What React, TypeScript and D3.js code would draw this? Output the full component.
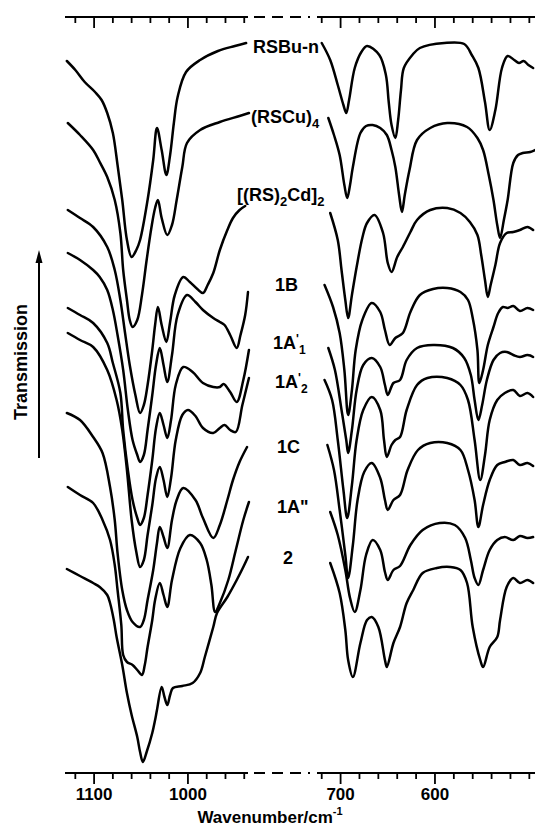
import * as d3 from "d3";

type Pt = [number, number];

// axis layout (cm-1)
const leftDomain = [1131, 936];
const rightDomain = [725, 494];
const leftTicks = [1120, 1100, 1080, 1060, 1040, 1020, 1000, 980, 960, 940];
const rightTicks = [720, 700, 680, 660, 640, 620, 600, 580, 560, 540, 520, 500];
const leftMajor = [1100, 1000];
const rightMajor = [700, 600];

// spectra, [wavenumber, stacked transmission (a.u.)]
const rsbuLeft: Pt[] = [[1129,712],[1120,703],[1110,691],[1099,681],[1092,673],[1086,660],[1080,640],[1075,608],[1070,573],[1065,533],[1060,516],[1055,523],[1051,533],[1043,573],[1037,613],[1033,645],[1028,623],[1023,598],[1019,618],[1015,650],[1011,676],[1002,701],[987,713],[968,722],[950,727],[938,730]];
const rsbuRight: Pt[] = [[720,730],[711,713],[703,688],[697,668],[694,660],[691,673],[685,705],[678,721],[672,727],[659,718],[652,698],[649,671],[646,648],[642,635],[639,653],[636,683],[633,705],[624,718],[616,725],[590,730],[569,729],[561,718],[554,705],[547,671],[542,643],[536,663],[529,705],[523,717],[516,713],[511,710],[506,712],[501,708],[496,705]];

const rscuLeft: Pt[] = [[1128,650],[1115,638],[1101,623],[1094,611],[1086,596],[1078,573],[1072,540],[1069,503],[1065,473],[1062,453],[1059,446],[1054,453],[1049,478],[1044,513],[1039,545],[1035,565],[1032,573],[1028,555],[1022,538],[1017,548],[1012,573],[1006,606],[1001,630],[987,643],[966,651],[945,657],[935,660]];
const rscuRight: Pt[] = [[713,655],[707,638],[701,618],[696,588],[693,575],[690,588],[687,606],[679,640],[673,647],[666,648],[658,645],[651,638],[646,623],[642,606],[638,578],[635,561],[632,578],[627,603],[619,633],[605,645],[587,650],[566,646],[555,635],[549,623],[543,598],[538,573],[534,548],[531,535],[527,553],[523,573],[517,610],[512,618],[507,620],[499,621],[494,623]];

const cdLeft: Pt[] = [[1128,563],[1115,555],[1101,546],[1086,526],[1078,503],[1072,473],[1067,440],[1062,408],[1056,378],[1051,360],[1047,368],[1043,388],[1038,423],[1035,448],[1032,466],[1028,448],[1023,431],[1019,451],[1014,478],[1005,496],[998,491],[990,484],[984,480],[979,488],[973,500],[966,523],[958,543],[952,555],[945,563],[939,567]];
const cdRight: Pt[] = [[711,560],[703,533],[699,503],[695,473],[692,455],[688,478],[683,506],[677,535],[672,550],[664,558],[655,540],[650,510],[646,501],[640,516],[634,526],[626,541],[619,553],[605,563],[587,565],[573,560],[563,551],[555,538],[551,518],[547,493],[544,476],[541,488],[536,508],[531,530],[524,540],[517,541],[510,543],[502,546],[496,543]];

const b1Left: Pt[] = [[1128,520],[1115,513],[1101,503],[1094,496],[1086,483],[1080,463],[1075,438],[1069,403],[1064,363],[1059,333],[1054,318],[1051,311],[1047,318],[1043,343],[1038,378],[1034,408],[1030,425],[1026,408],[1022,391],[1017,418],[1011,458],[1001,478],[992,471],[984,463],[973,455],[966,451],[961,448],[955,438],[948,425],[944,438],[939,458],[936,481]];
const b1Right: Pt[] = [[717,488],[708,466],[701,440],[696,403],[692,358],[688,383],[684,423],[677,453],[667,470],[658,461],[653,443],[648,428],[642,435],[634,440],[626,461],[616,478],[602,484],[587,485],[573,481],[565,473],[560,455],[555,423],[553,390],[549,403],[544,428],[538,446],[533,460],[528,466],[523,465],[517,467],[510,462],[502,465],[496,463]];

const a1Left: Pt[] = [[1128,465],[1115,458],[1101,450],[1086,430],[1080,410],[1072,380],[1069,343],[1064,303],[1059,273],[1054,255],[1051,248],[1047,255],[1043,278],[1038,313],[1034,345],[1030,360],[1026,348],[1022,335],[1018,353],[1013,388],[1005,406],[995,401],[984,390],[973,386],[966,386],[962,389],[955,381],[948,371],[941,393],[935,423]];
const a1Right: Pt[] = [[713,425],[706,403],[699,363],[694,333],[692,320],[688,343],[683,383],[676,408],[667,415],[658,406],[653,388],[650,378],[644,390],[637,393],[630,413],[619,425],[602,428],[581,425],[569,415],[562,398],[558,373],[554,353],[550,368],[545,393],[538,413],[531,420],[524,421],[517,418],[510,416],[502,418],[496,416]];

const a2Left: Pt[] = [[1128,440],[1115,433],[1101,426],[1086,403],[1076,373],[1070,343],[1065,303],[1060,253],[1055,221],[1051,206],[1047,213],[1043,238],[1038,268],[1034,295],[1030,306],[1026,293],[1022,276],[1018,295],[1013,333],[1006,358],[1000,363],[992,357],[984,345],[973,340],[966,345],[961,348],[955,343],[949,341],[942,368],[935,395]];
const a2Right: Pt[] = [[717,393],[709,373],[703,333],[697,283],[693,255],[688,288],[683,333],[676,363],[667,376],[658,363],[654,333],[651,316],[646,328],[642,333],[637,336],[630,363],[619,388],[608,395],[587,395],[573,388],[565,373],[558,333],[552,293],[547,318],[542,353],[534,373],[526,380],[517,383],[510,377],[502,380],[496,376]];

const c1Left: Pt[] = [[1129,360],[1115,353],[1101,336],[1091,320],[1083,286],[1078,253],[1075,220],[1070,183],[1065,163],[1059,151],[1051,146],[1047,153],[1043,173],[1037,203],[1033,230],[1030,246],[1026,236],[1022,225],[1017,253],[1012,273],[1005,285],[992,273],[984,255],[973,235],[966,248],[958,273],[952,293],[945,311],[937,326]];
const c1Right: Pt[] = [[714,328],[707,303],[701,263],[695,218],[692,195],[687,228],[682,273],[675,301],[667,310],[658,295],[653,273],[650,263],[644,273],[637,278],[629,303],[618,323],[605,330],[587,330],[573,323],[565,303],[558,273],[554,246],[549,268],[542,293],[534,308],[526,311],[517,313],[510,308],[502,310],[496,307]];

const app2Left: Pt[] = [[1128,286],[1115,278],[1101,270],[1091,253],[1083,233],[1078,208],[1075,183],[1071,148],[1069,118],[1065,111],[1059,108],[1054,103],[1049,98],[1046,108],[1043,126],[1038,153],[1035,173],[1030,190],[1026,178],[1022,166],[1017,193],[1008,225],[998,238],[987,230],[980,213],[975,188],[971,161],[966,170],[957,193],[949,223],[941,253],[935,271]];
const app2Right: Pt[] = [[711,261],[703,238],[695,203],[690,175],[685,161],[679,183],[673,218],[666,233],[658,223],[653,201],[650,193],[644,203],[637,207],[626,228],[613,243],[595,250],[579,248],[568,235],[562,213],[558,195],[554,188],[549,203],[542,223],[534,233],[526,236],[517,233],[510,237],[502,235],[496,236]];

const two2Left: Pt[] = [[1129,204],[1115,197],[1101,190],[1094,186],[1086,178],[1083,170],[1079,153],[1076,136],[1070,108],[1065,80],[1060,58],[1054,36],[1051,21],[1048,11],[1044,21],[1038,40],[1035,53],[1033,63],[1028,86],[1025,76],[1022,68],[1019,78],[1016,85],[1006,87],[995,90],[987,100],[982,116],[973,146],[969,160],[958,176],[948,193],[941,206],[936,216]];
const two2Right: Pt[] = [[711,210],[701,180],[695,143],[692,113],[687,96],[679,130],[672,153],[667,156],[660,146],[653,113],[651,106],[644,130],[637,146],[630,170],[623,183],[613,200],[598,205],[584,206],[573,203],[566,190],[560,146],[552,113],[549,106],[542,126],[534,136],[531,153],[524,186],[517,195],[510,190],[502,193],[496,190]];

const spectra = [
  { left: rsbuLeft, right: rsbuRight },
  { left: rscuLeft, right: rscuRight },
  { left: cdLeft, right: cdRight },
  { left: b1Left, right: b1Right },
  { left: a1Left, right: a1Right },
  { left: a2Left, right: a2Right },
  { left: c1Left, right: c1Right },
  { left: app2Left, right: app2Right },
  { left: two2Left, right: two2Right },
];

const FONT = "'Liberation Sans', Arial, sans-serif";

export default function App() {
  const top = 17;
  const bottom = 773;
  const xL = d3.scaleLinear().domain(leftDomain).range([65, 248]);
  const xR = d3.scaleLinear().domain(rightDomain).range([317, 535]);
  const y = d3.scaleLinear().domain([0, 756]).range([bottom, top]);

  const lineL = d3.line<Pt>().x((d) => xL(d[0])).y((d) => y(d[1])).curve(d3.curveCatmullRom.alpha(0.5));
  const lineR = d3.line<Pt>().x((d) => xR(d[0])).y((d) => y(d[1])).curve(d3.curveCatmullRom.alpha(0.5));

  const axis = (y0: number) => (
    <g>
      <line x1={65} x2={248} y1={y0} y2={y0} stroke="#000" strokeWidth={2} />
      <line x1={254} x2={310} y1={y0} y2={y0} stroke="#000" strokeWidth={2} strokeDasharray="11 7" />
      <line x1={317} x2={535} y1={y0} y2={y0} stroke="#000" strokeWidth={2} />
      {leftTicks.map((t) => (
        <line key={"l" + t} x1={xL(t)} x2={xL(t)} y1={y0} y2={y0 + (leftMajor.includes(t) ? 11 : 6)} stroke="#000" strokeWidth={1.8} />
      ))}
      {rightTicks.map((t) => (
        <line key={"r" + t} x1={xR(t)} x2={xR(t)} y1={y0} y2={y0 + (rightMajor.includes(t) ? 11 : 6)} stroke="#000" strokeWidth={1.8} />
      ))}
    </g>
  );

  return (
    <svg width={535} height={836} style={{ position: "absolute", left: 0, top: 0, background: "#fff" }}
      fontFamily={FONT} fontWeight="bold" fontSize={18}>
      {axis(top)}
      {axis(bottom)}
      {leftMajor.map((t) => (
        <text key={t} x={xL(t)} y={800} textAnchor="middle" fontSize={17}>{t}</text>
      ))}
      {rightMajor.map((t) => (
        <text key={t} x={xR(t)} y={800} textAnchor="middle" fontSize={17}>{t}</text>
      ))}
      <text x={270} y={823} textAnchor="middle" fontSize={17}>
        Wavenumber/cm<tspan dy={-8} fontSize={11}>-1</tspan>
      </text>

      <text transform="translate(27,362) rotate(-90)" textAnchor="middle">Transmission</text>
      <line x1={39} x2={39} y1={458} y2={260} stroke="#000" strokeWidth={2} />
      <path d="M39,250 L35.5,263 L42.5,263 Z" fill="#000" />

      <g fill="none" stroke="#000" strokeWidth={2.5} strokeLinejoin="round" strokeLinecap="round">
        {spectra.map((s, i) => (
          <g key={i}>
            <path d={lineL(s.left) ?? ""} />
            <path d={lineR(s.right) ?? ""} />
          </g>
        ))}
      </g>

      <text x={253} y={53}>RSBu-n</text>
      <text x={251} y={123}>(RSCu)<tspan dy={5} fontSize={13}>4</tspan></text>
      <text x={237} y={201}>
        [(RS)<tspan dy={5} fontSize={13}>2</tspan><tspan dy={-5}>Cd]</tspan><tspan dy={5} fontSize={13}>2</tspan>
      </text>
      <text x={275} y={291}>1B</text>
      <text x={273} y={349}>
        1A<tspan dy={-6} fontSize={12}>'</tspan><tspan dy={11} fontSize={12}>1</tspan>
      </text>
      <text x={275} y={388}>
        1A<tspan dy={-6} fontSize={12}>'</tspan><tspan dy={11} fontSize={12}>2</tspan>
      </text>
      <text x={277} y={453}>1C</text>
      <text x={277} y={513}>1A"</text>
      <text x={283} y={564}>2</text>
    </svg>
  );
}
